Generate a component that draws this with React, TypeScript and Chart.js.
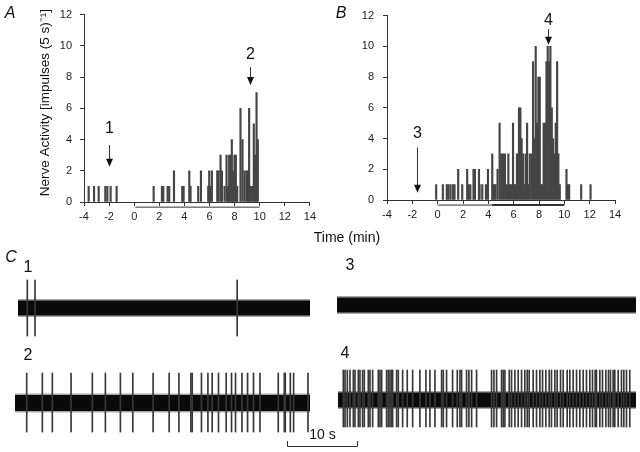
import React, { useEffect, useRef } from 'react';
import { Chart, registerables } from 'chart.js';

Chart.register(...registerables);

const FONT = "'Liberation Sans', Arial, Helvetica, sans-serif";

// ---------- Panel A: histogram (time in min, impulses per 5-s bin) ----------
const timesA = [-3.63, -3.2, -2.83, -2.3, -2.14, -1.88, -1.4,
  1.55, 2.21, 2.32, 2.66, 2.79, 3.17, 3.83, 3.94, 4.39, 4.49,
  5.1, 5.32, 5.9, 5.98, 6.08, 6.19, 6.62, 6.72, 6.88, 6.99,
  7.2, 7.36, 7.47, 7.57, 7.68, 7.78, 7.89, 7.99, 8.1, 8.21,
  8.47, 8.63, 8.79, 8.95, 9.06, 9.16, 9.27, 9.38, 9.53, 9.64, 9.75, 9.85];
const countsA = [1, 1, 1, 1, 1, 1, 1,
  1, 1, 1, 1, 1, 2, 1, 1, 2, 1,
  1, 2, 1, 2, 1, 2, 2, 2, 3, 2,
  1, 3, 1, 3, 3, 4, 2, 3, 3, 1,
  6, 4, 2, 2, 2, 6, 1, 1, 5, 3, 7, 4];

// ---------- Panel B ----------
const timesB = [-0.12, 0.41, 0.72, 0.85, 1.01, 1.2, 1.33, 1.62, 1.94, 2.33, 2.45, 2.58, 2.83, 2.94,
  3.26, 3.31, 3.52, 3.81, 3.97, 4.31, 4.36, 4.47, 4.57, 4.73, 4.89, 5.02, 5.16, 5.31, 5.47, 5.58,
  5.68, 5.79, 5.95, 6.05, 6.16, 6.26, 6.42, 6.53, 6.63, 6.74, 6.84, 6.95, 7.06, 7.16, 7.27, 7.4,
  7.53, 7.64, 7.74, 7.85, 7.95, 8.06, 8.16, 8.27, 8.37, 8.48, 8.59, 8.69, 8.8, 8.9, 9.01, 9.11,
  9.22, 9.32, 9.43, 9.53, 9.64, 10.17, 10.27, 10.38, 11.33, 12.07];
const countsB = [1, 1, 1, 1, 1, 1, 1, 2, 1, 2, 1, 1, 2, 2,
  2, 1, 1, 1, 2, 3, 1, 1, 1, 2, 5, 3, 3, 3, 1, 3,
  1, 1, 5, 1, 1, 3, 6, 6, 4, 3, 1, 3, 5, 1, 3, 3,
  9, 4, 10, 5, 8, 8, 1, 1, 5, 5, 9, 10, 9, 10, 6, 4,
  3, 5, 9, 3, 1, 2, 1, 1, 1, 1];

const xTickValues = [-4, -2, 0, 2, 4, 6, 8, 10, 12, 14];
const yTickValues = [0, 2, 4, 6, 8, 10, 12];

// stimulus period bars under the time axis (min)
const stimA = [0.1, 10];
const stimB = [0, 10];
const stimBStrong = [4.3, 10];

// times (min) of the sample recordings marked by arrows
const arrowTimesA = [-2.0, 9.2];
const arrowNamesA = ['1', '2'];
const arrowTimesB = [-1.6, 8.7];
const arrowNamesB = ['3', '4'];

// ---------- Panel C: recordings (time in s from start) ----------
const traceLengths = [41.7, 42.1, 42.7, 42.6];
const spikes1 = [1.33, 2.43, 31.3];
const spikes2 = [1.67, 3.9, 5.33, 8.0, 11.04, 12.9, 15.04, 16.81, 19.71, 22.0, 23.39, 25.1, 25.29,
  26.61, 27.53, 28.14, 29.04, 30.14, 30.9, 31.47, 32.39, 33.19, 34.04, 34.96, 37.57, 38.43, 38.57,
  39.29, 39.76, 41.81];
const spikes3: number[] = [];
const spikes4 = [0.76, 1.0, 1.33, 1.71, 2.19, 2.43, 2.9, 3.14, 3.52, 3.76, 4.33, 4.57, 4.95, 5.76,
  6.0, 6.24, 6.95, 7.19, 7.43, 7.67, 7.81, 8.38, 8.62, 9.24, 9.9, 10.67, 11.71, 12.57, 13.14, 13.86,
  14.81, 15.05, 15.52, 16.38, 17.05, 17.43, 17.67, 18.38, 18.71, 19.1, 19.81, 21.95, 22.29, 22.67,
  23.38, 23.62, 23.86, 24.48, 24.81, 25.29, 25.76, 26.24, 26.71, 27.05, 27.33, 27.9, 28.38, 28.86,
  29.24, 29.71, 30.19, 30.52, 31.0, 31.33, 31.81, 32.19, 32.76, 33.14, 33.62, 34.1, 34.57, 35.05,
  35.52, 36.0, 36.38, 36.76, 36.95, 37.43, 37.81, 38.29, 38.67, 38.95, 39.33, 39.57, 40.05, 40.52,
  40.86, 41.24, 41.71];
const scaleBarSeconds = 10;
const scaleBarStart = 38.8;

// ---------- plugins ----------
const arrowPlugin = {
  id: 'arrows',
  afterDatasetsDraw(chart: any, _a: any, opts: any) {
    const items = (opts && opts.items) || [];
    const { ctx } = chart;
    const xs = chart.scales.x;
    const ys = chart.scales.y;
    ctx.save();
    items.forEach((it: any) => {
      const x = Math.round(xs.getPixelForValue(it.t)) + 0.5;
      const y0 = ys.getPixelForValue(it.from);
      const y1 = ys.getPixelForValue(it.to);
      ctx.strokeStyle = '#333';
      ctx.lineWidth = 1;
      ctx.beginPath();
      ctx.moveTo(x, y0);
      ctx.lineTo(x, y1 - 5);
      ctx.stroke();
      ctx.fillStyle = '#111';
      ctx.beginPath();
      ctx.moveTo(x - 3.5, y1 - 8);
      ctx.lineTo(x + 3.5, y1 - 8);
      ctx.lineTo(x, y1);
      ctx.closePath();
      ctx.fill();
      ctx.font = `16px ${FONT}`;
      ctx.textAlign = 'center';
      ctx.textBaseline = 'middle';
      ctx.fillText(it.label, x, ys.getPixelForValue(it.labelY));
    });
    ctx.restore();
  },
};

const scaleBarPlugin = {
  id: 'scalebar',
  afterDatasetsDraw(chart: any, _a: any, opts: any) {
    if (!opts || opts.length == null) return;
    const { ctx } = chart;
    const xs = chart.scales.x;
    const ys = chart.scales.y;
    const x0 = Math.round(xs.getPixelForValue(opts.start)) + 0.5;
    const x1 = Math.round(xs.getPixelForValue(opts.start + opts.length)) + 0.5;
    const y = Math.round(ys.getPixelForValue(opts.y)) + 0.5;
    const yt = ys.getPixelForValue(opts.tickY);
    ctx.save();
    ctx.strokeStyle = '#333';
    ctx.lineWidth = 1;
    ctx.beginPath();
    ctx.moveTo(x0, yt);
    ctx.lineTo(x0, y);
    ctx.lineTo(x1, y);
    ctx.lineTo(x1, yt);
    ctx.stroke();
    ctx.fillStyle = '#111';
    ctx.font = `14px ${FONT}`;
    ctx.textAlign = 'center';
    ctx.textBaseline = 'middle';
    ctx.fillText(opts.label, (x0 + x1) / 2, ys.getPixelForValue(opts.labelY));
    ctx.restore();
  },
};

// ---------- configs ----------
function histConfig(o: {
  times: number[]; counts: number[]; stims: { r: number[]; w: number }[];
  arrows: any[]; pad: any; yWidth: number; yTitle?: string; yPad: number;
}) {
  const tickFont = { size: 11, family: FONT };
  return {
    type: 'bar',
    data: {
      datasets: [
        {
          type: 'bar',
          data: o.times.map((t, i) => ({ x: t, y: o.counts[i] })),
          backgroundColor: '#454545',
          borderWidth: 0,
          barThickness: 1.5,
          order: 2,
        },
        ...o.stims.map((s) => ({
          type: 'line',
          data: [{ x: s.r[0], y: -0.33 }, { x: s.r[1], y: -0.33 }],
          borderColor: '#333',
          borderWidth: s.w,
          pointRadius: 0,
          clip: false,
          order: 1,
        })),
      ],
    },
    options: {
      responsive: false,
      animation: false,
      devicePixelRatio: 1,
      layout: { padding: o.pad, autoPadding: false },
      plugins: {
        legend: { display: false },
        tooltip: { enabled: false },
        arrows: { items: o.arrows },
      },
      scales: {
        x: {
          type: 'linear',
          min: -4,
          max: 14,
          offset: false,
          afterBuildTicks: (s: any) => { s.ticks = xTickValues.map((v) => ({ value: v })); },
          afterFit: (s: any) => { s.height = 25; },
          ticks: { font: tickFont, color: '#222', padding: 4, maxRotation: 0, autoSkip: false },
          grid: { drawOnChartArea: false, tickLength: 4, color: '#333', offset: false },
          border: { color: '#333', width: 1 },
        },
        y: {
          type: 'linear',
          min: 0,
          max: 12,
          afterBuildTicks: (s: any) => { s.ticks = yTickValues.map((v) => ({ value: v })); },
          afterFit: (s: any) => { s.width = o.yWidth; },
          ticks: { font: tickFont, color: '#222', padding: o.yPad },
          grid: { drawOnChartArea: false, tickLength: 4, color: '#333' },
          border: { color: '#333', width: 1 },
          title: o.yTitle
            ? { display: true, text: o.yTitle, font: { size: 13.5, family: FONT }, color: '#111', padding: { top: 4, bottom: 4 } }
            : { display: false },
        },
      },
    },
    plugins: [arrowPlugin],
  };
}

function traceConfig(o: {
  len: number; spikes: number[]; up: number; down: number; band: number;
  yMin: number; yMax: number; padRight?: number; scaleBar?: any;
}) {
  return {
    type: 'bar',
    data: {
      datasets: [
        {
          type: 'line',
          data: [{ x: 0, y: 0 }, { x: o.len, y: 0 }],
          borderColor: 'rgba(0,0,0,0.35)',
          borderWidth: o.band + 3,
          borderCapStyle: 'butt',
          pointRadius: 0,
          clip: false,
          order: 3,
        },
        {
          type: 'line',
          data: [{ x: 0, y: 0 }, { x: o.len, y: 0 }],
          borderColor: '#0a0a0a',
          borderWidth: o.band,
          borderCapStyle: 'butt',
          pointRadius: 0,
          clip: false,
          order: 2,
        },
        {
          type: 'bar',
          data: o.spikes.map((t) => ({ x: t, y: [-o.down, o.up] })),
          backgroundColor: '#383838',
          borderWidth: 0,
          barThickness: 1,
          order: 1,
        },
      ],
    },
    options: {
      responsive: false,
      animation: false,
      devicePixelRatio: 1,
      layout: { padding: { left: 0, top: 0, bottom: 0, right: o.padRight || 0 }, autoPadding: false },
      plugins: {
        legend: { display: false },
        tooltip: { enabled: false },
        scalebar: o.scaleBar || {},
      },
      scales: {
        x: { type: 'linear', display: false, min: 0, max: o.len, offset: false },
        y: { type: 'linear', display: false, min: o.yMin, max: o.yMax },
      },
    },
    plugins: o.scaleBar ? [scaleBarPlugin] : [],
  };
}

function ChartBox(props: { left: number; top: number; width: number; height: number; make: () => any }) {
  const ref = useRef<HTMLCanvasElement>(null);
  useEffect(() => {
    const chart = new Chart(ref.current as HTMLCanvasElement, props.make());
    return () => chart.destroy();
  }, []);
  return (
    <canvas
      ref={ref}
      width={props.width}
      height={props.height}
      style={{ position: 'absolute', left: props.left, top: props.top, width: props.width, height: props.height }}
    />
  );
}

function Label(props: { x: number; y: number; text: string; size: number; italic?: boolean }) {
  return (
    <div
      style={{
        position: 'absolute',
        left: props.x,
        top: props.y,
        transform: 'translate(-50%, -50%)',
        fontSize: props.size,
        fontStyle: props.italic ? 'italic' : 'normal',
        fontFamily: FONT,
        color: '#111',
        whiteSpace: 'nowrap',
        lineHeight: 1,
      }}
    >
      {props.text}
    </div>
  );
}

export default function App() {
  return (
    <div style={{ position: 'absolute', left: 0, top: 0, width: 640, height: 452, background: '#fff', overflow: 'hidden' }}>
      <ChartBox
        left={0} top={0} width={320} height={230}
        make={() => histConfig({
          times: timesA, counts: countsA,
          stims: [{ r: stimA, w: 1 }],
          arrows: [
            { t: arrowTimesA[0], label: arrowNamesA[0], from: 3.64, to: 2.26, labelY: 4.72 },
            { t: arrowTimesA[1], label: arrowNamesA[1], from: 8.64, to: 7.5, labelY: 9.46 },
          ],
          pad: { left: 33, right: 10, top: 12, bottom: 3 },
          yWidth: 51, yPad: 8,
          yTitle: '\u00A0\u00A0\u00A0Nerve Activity [impulses (5 s)\u207B\u00B9]',
        })}
      />
      <ChartBox
        left={320} top={0} width={320} height={230}
        make={() => histConfig({
          times: timesB, counts: countsB,
          stims: [{ r: stimB, w: 1 }, { r: stimBStrong, w: 2 }],
          arrows: [
            { t: arrowTimesB[0], label: arrowNamesB[0], from: 3.42, to: 0.47, labelY: 4.32 },
            { t: arrowTimesB[1], label: arrowNamesB[1], from: 11.12, to: 10.1, labelY: 11.7 },
          ],
          pad: { left: 37, right: 25, top: 13, bottom: 5 },
          yWidth: 30, yPad: 9,
        })}
      />
      <ChartBox
        left={18} top={268} width={292} height={80}
        make={() => traceConfig({ len: traceLengths[0], spikes: spikes1, up: 28, down: 28, band: 15, yMin: -40, yMax: 40 })}
      />
      <ChartBox
        left={15} top={363} width={345} height={90}
        make={() => traceConfig({
          len: traceLengths[1], spikes: spikes2, up: 30, down: 29, band: 16, yMin: -50, yMax: 40, padRight: 50,
          scaleBar: { start: scaleBarStart, length: scaleBarSeconds, y: -42.7, tickY: -38, labelY: -32, label: '10 s' },
        })}
      />
      <ChartBox
        left={337} top={265} width={299} height={80}
        make={() => traceConfig({ len: traceLengths[2], spikes: spikes3, up: 28, down: 28, band: 15, yMin: -40, yMax: 40 })}
      />
      <ChartBox
        left={338} top={360} width={298} height={80}
        make={() => traceConfig({ len: traceLengths[3], spikes: spikes4, up: 30, down: 27, band: 15, yMin: -40, yMax: 40 })}
      />
      <Label x={10} y={13} text="A" size={16} italic />
      <Label x={341} y={13} text="B" size={16} italic />
      <Label x={11} y={257} text="C" size={16} italic />
      <Label x={347} y={237} text="Time (min)" size={14} />
      <Label x={28} y={267} text="1" size={16} />
      <Label x={28} y={355} text="2" size={16} />
      <Label x={350} y={265} text="3" size={16} />
      <Label x={345} y={353} text="4" size={16} />
    </div>
  );
}
